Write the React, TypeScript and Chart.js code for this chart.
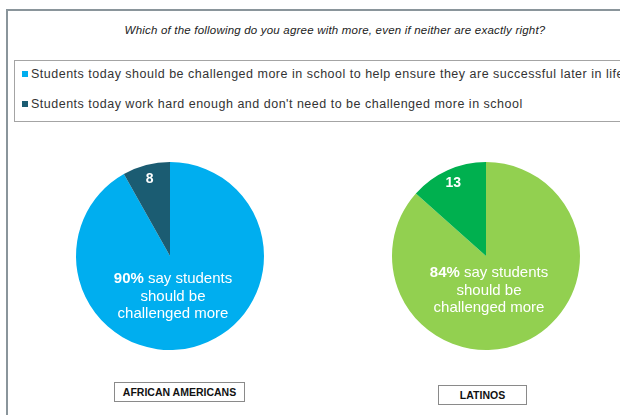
import React, { useEffect, useRef } from "react";
import { Chart, registerables } from "chart.js";

Chart.register(...registerables);

const title = "Which of the following do you agree with more, even if neither are exactly right?";
const seriesLabels = [
  "Students today should be challenged more in school to help ensure they are successful later in life",
  "Students today work hard enough and don't need to be challenged more in school",
];
const groups = ["AFRICAN AMERICANS", "LATINOS"];
const challengedMore = [90, 84];
const workHardEnough = [8, 13];
const lightColors = ["#00AEEF", "#92D050"];
const darkColors = ["#1B5C72", "#00B04F"];

const FONT = "'Liberation Sans', Arial, Helvetica, sans-serif";

// layout (pixels on the page)
const pieLayout = [
  { cx: 170, cy: 256, r: 94, textDy: 23, box: { left: 114, top: 382, width: 131, height: 20 } },
  { cx: 486, cy: 256, r: 94, textDy: 17, box: { left: 438, top: 385, width: 89, height: 20 } },
];
const CANVAS = 230;

function PieChart({ idx }: { idx: number }) {
  const ref = useRef<HTMLCanvasElement | null>(null);
  useEffect(() => {
    if (!ref.current) return;
    const lay = pieLayout[idx];
    const labelPlugin = {
      id: "pieLabels",
      afterDatasetsDraw(chart: any) {
        const ctx = chart.ctx;
        const meta = chart.getDatasetMeta(0);
        const arc = meta.data[1];
        const p = arc.getProps(["x", "y", "startAngle", "endAngle", "outerRadius"], true);
        const mid = (p.startAngle + p.endAngle) / 2;
        const rr = p.outerRadius * 0.85;
        ctx.save();
        ctx.fillStyle = "#ffffff";
        ctx.textAlign = "center";
        ctx.textBaseline = "middle";
        ctx.font = `bold 14px ${FONT}`;
        ctx.fillText(String(workHardEnough[idx]), p.x + Math.cos(mid) * rr, p.y + Math.sin(mid) * rr);

        // main label
        const pct = `${challengedMore[idx]}%`;
        const rest = " say students";
        ctx.font = `bold 15px ${FONT}`;
        const w1 = ctx.measureText(pct).width;
        ctx.font = `15px ${FONT}`;
        const w2 = ctx.measureText(rest).width;
        const cx = p.x + 3;
        const y0 = p.y + lay.textDy;
        ctx.textAlign = "left";
        ctx.font = `bold 15px ${FONT}`;
        ctx.fillText(pct, cx - (w1 + w2) / 2, y0);
        ctx.font = `15px ${FONT}`;
        ctx.fillText(rest, cx - (w1 + w2) / 2 + w1, y0);
        ctx.textAlign = "center";
        ctx.fillText("should be", cx, y0 + 18);
        ctx.fillText("challenged more", cx, y0 + 35);
        ctx.restore();
      },
    };
    const chart = new Chart(ref.current, {
      type: "pie",
      data: {
        labels: seriesLabels,
        datasets: [
          {
            data: [challengedMore[idx], workHardEnough[idx]],
            backgroundColor: [lightColors[idx], darkColors[idx]],
            borderWidth: 0,
          },
        ],
      },
      options: {
        responsive: false,
        maintainAspectRatio: false,
        animation: false,
        radius: lay.r,
        layout: { padding: 0 },
        plugins: { legend: { display: false }, tooltip: { enabled: false } },
      } as any,
      plugins: [labelPlugin],
    });
    return () => chart.destroy();
  }, [idx]);
  const lay = pieLayout[idx];
  return (
    <canvas
      ref={ref}
      width={CANVAS}
      height={CANVAS}
      style={{
        position: "absolute",
        left: lay.cx - CANVAS / 2,
        top: lay.cy - CANVAS / 2,
        width: CANVAS,
        height: CANVAS,
      }}
    />
  );
}

export default function App() {
  return (
    <div
      style={{
        position: "fixed",
        left: 0,
        top: 0,
        width: 620,
        height: 415,
        overflow: "hidden",
        background: "#ffffff",
        fontFamily: FONT,
      }}
    >
      <div
        style={{
          position: "absolute",
          left: 6,
          top: 9,
          width: 700,
          height: 500,
          border: "2px solid #8a959b",
        }}
      />
      <div
        style={{
          position: "absolute",
          left: 100,
          width: 470,
          top: 23,
          textAlign: "center",
          fontSize: 11.5,
          letterSpacing: 0.2,
          fontStyle: "italic",
          color: "#222",
          whiteSpace: "nowrap",
          lineHeight: "14px",
        }}
      >
        {title}
      </div>
      <div
        style={{
          position: "absolute",
          left: 14,
          top: 60,
          width: 700,
          height: 60,
          border: "1.5px solid #a4a4a4",
        }}
      />
      {seriesLabels.map((s, i) => (
        <div key={i}>
          <div
            style={{
              position: "absolute",
              left: 22,
              top: 71 + i * 30,
              width: 6,
              height: 6,
              background: i === 0 ? lightColors[0] : darkColors[0],
            }}
          />
          <div
            style={{
              position: "absolute",
              left: 31,
              top: 66 + i * 30,
              fontSize: 12.5,
              letterSpacing: 0.5,
              lineHeight: "16px",
              color: "#333",
              whiteSpace: "nowrap",
            }}
          >
            {s}
          </div>
        </div>
      ))}
      {groups.map((g, i) => (
        <React.Fragment key={g}>
          <PieChart idx={i} />
          <div
            style={{
              position: "absolute",
              left: pieLayout[i].box.left,
              top: pieLayout[i].box.top,
              width: pieLayout[i].box.width,
              height: pieLayout[i].box.height,
              boxSizing: "border-box",
              border: "1.5px solid #8a8a8a",
              display: "flex",
              alignItems: "center",
              justifyContent: "center",
              fontSize: 10.5,
              fontWeight: "bold",
              color: "#111",
              whiteSpace: "nowrap",
            }}
          >
            {g}
          </div>
        </React.Fragment>
      ))}
    </div>
  );
}
